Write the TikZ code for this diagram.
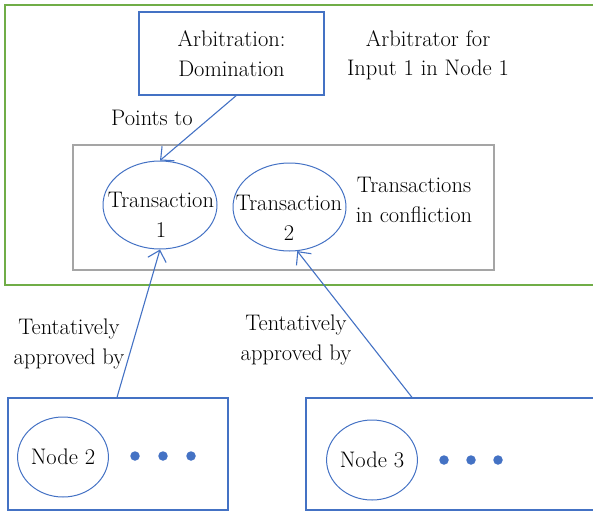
\documentclass[tikz,border=0pt]{standalone}
\usepackage{fontspec}
\usetikzlibrary{shapes.geometric,arrows.meta,calc}
\definecolor{ogreen}{HTML}{70AD47}
\definecolor{oblue}{HTML}{4472C4}
\definecolor{ogray}{HTML}{A5A5A5}
\begin{document}
\begin{tikzpicture}[x=1pt,y=-1pt,
  every node/.style={font=\rmfamily\fontsize{22.5}{29.5}\selectfont, align=center, inner sep=0pt},
  bluebox/.style={draw=oblue, line width=1.6pt, rectangle},
  tellipse/.style={draw=oblue, line width=1pt, ellipse},
  conn/.style={draw=oblue, line width=1.1pt, -{Straight Barb[length=10pt,width=19pt,line width=1.1pt]}},
  blob/.style={fill=oblue, circle, minimum size=9.5pt}]
\useasboundingbox (0,0) rectangle (593,514);
\clip (0,0) rectangle (593,514);
% outer green frame
\draw[ogreen, line width=1.7pt] (5,5) rectangle (620,285);
% arbitration box
\node[bluebox, minimum width=185pt, minimum height=83pt] (arb) at (231.5,53.5) {Arbitration:\\Domination};
\node (arbtext) at (428,55) {Arbitrator for\\Input 1 in Node 1};
\node (points) at (152,118) {Points to};
% gray box
\node[draw=ogray, line width=1.4pt, rectangle, minimum width=421pt, minimum height=125pt] (conf) at (283.5,207.5) {};
\node[tellipse, minimum width=114pt, minimum height=88pt] (t1) at (160,205) {};
\node (t1text) at (161,215) {Transaction\\1};
\node[tellipse, minimum width=113pt, minimum height=88pt] (t2) at (289.5,207) {};
\node (t2text) at (289,218) {Transaction\\2};
\node (conftext) at (414,200) {Transactions\\in confliction};
% bottom boxes
\node[bluebox, minimum width=220pt, minimum height=112pt, line width=1.3pt] (n2box) at (118,454) {};
\node[tellipse, minimum width=83pt, minimum height=80pt] (n2) at (63,457) {Node 2};
\node[blob] (d1) at (135,456) {};
\node[blob] (d2) at (163,456) {};
\node[blob] (d3) at (191,456) {};
\node[bluebox, minimum width=300pt, minimum height=112pt, line width=1.3pt] (n3box) at (456,454) {};
\node[tellipse, minimum width=84pt, minimum height=80pt] (n3) at (372,460) {Node 3};
\node[blob] (d4) at (444,460) {};
\node[blob] (d5) at (471,460) {};
\node[blob] (d6) at (498,460) {};
\node (ta1) at (69,344) {Tentatively\\approved by};
\node (ta2) at (296,340) {Tentatively\\approved by};
% connectors
\draw[conn] ([xshift=4.5pt]arb.south) -- (t1.north);
\draw[conn] ([xshift=-1pt]n2box.north) -- (t1.south);
\draw[conn] ([xshift=-44pt]n3box.north) -- (t2.-80);
\end{tikzpicture}
\end{document}
